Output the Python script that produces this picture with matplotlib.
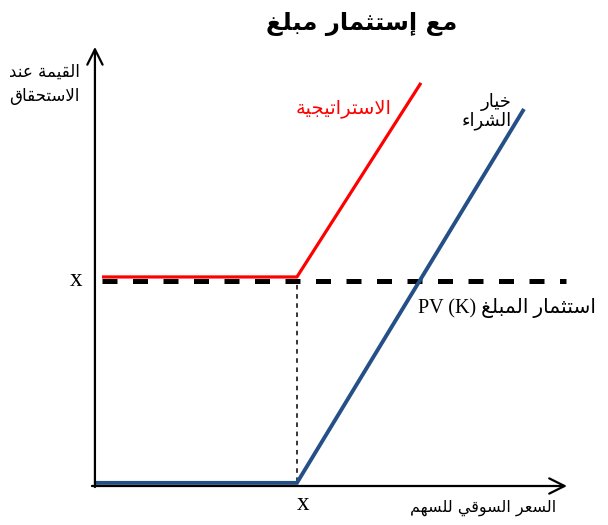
import matplotlib
matplotlib.use("Agg")
import matplotlib.pyplot as plt

# payoff data (price in units of strike, value in units of X)
call_price = [0.0, 1.0, 2.124]
call_value = [0.015, 0.015, 1.8125]
strat_price = [0.035, 1.0, 1.614]
strat_value = [1.005, 1.005, 1.938]
pv_price = [0.035, 2.33]
pv_value = [0.985, 0.985]
strike_x = [1.0, 1.0]
strike_y = [0.02, 0.98]

title = "مع إستثمار مبلغ"
ylabel = "القيمة عند\nالاستحقاق"
xlabel = "السعر السوقي للسهم"
strat_label = "الاستراتيجية"
call_label = "خيار\nالشراء"
pv_label = "استثمار المبلغ"

# minimal arabic shaping (matplotlib has no bidi / shaping)
FORMS = {
    'ء': (0xFE80, None, None, None),
    'ا': (0xFE8D, 0xFE8E, None, None),
    'إ': (0xFE87, 0xFE88, None, None),
    'ب': (0xFE8F, 0xFE90, 0xFE91, 0xFE92),
    'ة': (0xFE93, 0xFE94, None, None),
    'ت': (0xFE95, 0xFE96, 0xFE97, 0xFE98),
    'ث': (0xFE99, 0xFE9A, 0xFE9B, 0xFE9C),
    'ج': (0xFE9D, 0xFE9E, 0xFE9F, 0xFEA0),
    'ح': (0xFEA1, 0xFEA2, 0xFEA3, 0xFEA4),
    'خ': (0xFEA5, 0xFEA6, 0xFEA7, 0xFEA8),
    'د': (0xFEA9, 0xFEAA, None, None),
    'ر': (0xFEAD, 0xFEAE, None, None),
    'س': (0xFEB1, 0xFEB2, 0xFEB3, 0xFEB4),
    'ش': (0xFEB5, 0xFEB6, 0xFEB7, 0xFEB8),
    'ع': (0xFEC9, 0xFECA, 0xFECB, 0xFECC),
    'غ': (0xFECD, 0xFECE, 0xFECF, 0xFED0),
    'ق': (0xFED5, 0xFED6, 0xFED7, 0xFED8),
    'ل': (0xFEDD, 0xFEDE, 0xFEDF, 0xFEE0),
    'م': (0xFEE1, 0xFEE2, 0xFEE3, 0xFEE4),
    'ن': (0xFEE5, 0xFEE6, 0xFEE7, 0xFEE8),
    'ه': (0xFEE9, 0xFEEA, 0xFEEB, 0xFEEC),
    'و': (0xFEED, 0xFEEE, None, None),
    'ي': (0xFEF1, 0xFEF2, 0xFEF3, 0xFEF4),
}
LAM_ALEF = {'ا': (0xFEFB, 0xFEFC), 'إ': (0xFEF9, 0xFEFA)}


def dual(c):
    return c in FORMS and FORMS[c][2] is not None


def joins_prev(c):
    return c in FORMS and FORMS[c][1] is not None


def shape_line(s):
    out = []
    i = 0
    while i < len(s):
        c = s[i]
        prev = s[i - 1] if i > 0 else ''
        link_prev = dual(prev) and joins_prev(c)
        if c == 'ل' and i + 1 < len(s) and s[i + 1] in LAM_ALEF:
            iso, fin = LAM_ALEF[s[i + 1]]
            out.append(chr(fin if link_prev else iso))
            i += 2
            continue
        if c not in FORMS:
            out.append(c)
            i += 1
            continue
        nxt = s[i + 1] if i + 1 < len(s) else ''
        link_next = dual(c) and joins_prev(nxt)
        iso, fin, ini, med = FORMS[c]
        if link_prev and link_next:
            g = med
        elif link_prev:
            g = fin
        elif link_next:
            g = ini
        else:
            g = iso
        out.append(chr(g))
        i += 1
    return ''.join(reversed(out))


def ar(s):
    return '\n'.join(shape_line(l) for l in s.split('\n'))


fig = plt.figure(figsize=(6.08, 5.25), dpi=100)
ax = fig.add_axes([0, 0, 1, 1])
ax.set_xlim(-0.470, 2.540)
ax.set_ylim(-0.1875, 2.3365)
ax.axis('off')

arabic = ['DejaVu Sans']
serif = ['Liberation Serif', 'DejaVu Sans']

# axes with open arrows
arrow = dict(arrowstyle='->,head_length=1.1,head_width=0.55', lw=1.6, color='black',
             shrinkA=0, shrinkB=0)
ax.annotate('', xy=(2.337, 0), xytext=(-0.015, 0), arrowprops=arrow)
ax.annotate('', xy=(0, 2.111), xytext=(0, -0.005), arrowprops=arrow)

blue = '#244F87'
ax.plot(strike_x, strike_y, color='black', lw=1.1, linestyle=(0, (3, 3)))
ax.plot(strat_price, strat_value, color='#FF0000', lw=2.3, solid_capstyle='butt')
ax.plot(pv_price, pv_value, color='black', lw=3.6, linestyle=(0, (3, 3.1)),
        dash_capstyle='butt')
ax.plot(call_price, call_value, color=blue, lw=2.8, solid_capstyle='butt',
        solid_joinstyle='miter')

ax.text(1.322, 2.22, ar(title), fontsize=17.5, fontweight='bold', ha='center',
        va='center', family=arabic)
ax.text(-0.074, 2.035, ar(ylabel), fontsize=12, ha='right', va='top',
        family=arabic, linespacing=1.45)
ax.text(-0.094, 0.99, 'x', fontsize=18, ha='center', va='center', family=serif)
ax.text(1.03, -0.085, 'x', fontsize=18, ha='center', va='center', family=serif)
ax.text(1.47, 1.817, ar(strat_label), fontsize=14, ha='right', va='center',
        color='#FF0000', family=arabic)
ax.text(2.064, 1.80, ar(call_label), fontsize=13, ha='right', va='center',
        family=arabic, linespacing=1.05)
ax.text(1.599, 0.856, 'PV (K) ' + ar(pv_label), fontsize=14.5, ha='left',
        va='center', family=serif)
ax.text(1.559, -0.106, ar(xlabel), fontsize=11.5, ha='left', va='center',
        family=arabic)

fig.savefig('out.png', dpi=100)
